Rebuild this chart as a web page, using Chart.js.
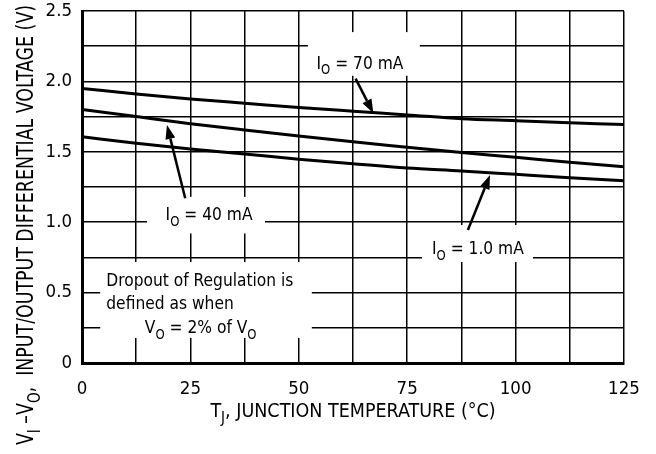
<!DOCTYPE html>
<html>
<head>
<meta charset="utf-8">
<script src="https://cdn.jsdelivr.net/npm/chart.js@4"></script>
<style>
  body { margin: 0; background: #fff; }
  #wrap { width: 656px; height: 454px; position: relative; }
</style>
</head>
<body>
<div id="wrap"><canvas id="dropoutChart"></canvas></div>
<script>
// temperatures (°C) and dropout voltage (V)
const tempC = [0, 12.5, 25, 37.5, 50, 62.5, 75, 87.5, 100, 112.5, 125];
const io70mA = [1.95, 1.91, 1.875, 1.845, 1.815, 1.788, 1.762, 1.735, 1.721, 1.707, 1.693];
const io40mA = [1.80, 1.75, 1.70, 1.655, 1.612, 1.571, 1.533, 1.495, 1.461, 1.425, 1.394];
const io1mA = [1.607, 1.56, 1.52, 1.485, 1.447, 1.415, 1.385, 1.364, 1.34, 1.316, 1.295];
const xTickLabels = ['0', '25', '50', '75', '100', '125'];
const yTickLabels = ['0', '0.5', '1.0', '1.5', '2.0', '2.5'];

const FONT = "'Liberation Sans Narrow', 'Arial Narrow', 'DejaVu Sans Condensed', sans-serif";

function toPoints(values) {
    return tempC.map((t, i) => ({ x: t, y: values[i] }));
}

// text with subscripts: parts = [[text, isSub], ...]; sx squeezes it horizontally
function drawRich(ctx, parts, x, y, align, size, sx) {
    sx = sx || 1;
    const subSize = Math.round(size * 0.78);
    let total = 0;
    parts.forEach(p => {
        ctx.font = (p[1] ? subSize : size) + 'px ' + FONT;
        total += ctx.measureText(p[0]).width;
    });
    ctx.save();
    ctx.translate(x, y);
    ctx.scale(sx, 1);
    let cx = align === 'center' ? -total / 2 : 0;
    ctx.textAlign = 'left';
    ctx.textBaseline = 'alphabetic';
    parts.forEach(p => {
        ctx.font = (p[1] ? subSize : size) + 'px ' + FONT;
        ctx.fillText(p[0], cx, p[1] ? size * 0.3 : 0);
        cx += ctx.measureText(p[0]).width;
    });
    ctx.restore();
}

function arrow(ctx, x1, y1, x2, y2) {
    const ang = Math.atan2(y2 - y1, x2 - x1);
    const len = 14, half = 5;
    const bx = x2 - len * Math.cos(ang), by = y2 - len * Math.sin(ang);
    ctx.beginPath();
    ctx.moveTo(x1, y1);
    ctx.lineTo(bx, by);
    ctx.lineWidth = 2.5;
    ctx.stroke();
    ctx.beginPath();
    ctx.moveTo(x2, y2);
    ctx.lineTo(bx + half * Math.sin(ang), by - half * Math.cos(ang));
    ctx.lineTo(bx - half * Math.sin(ang), by + half * Math.cos(ang));
    ctx.closePath();
    ctx.fill();
}

const notes = {
    id: 'notes',
    afterDatasetsDraw(chart) {
        const ctx = chart.ctx;
        const xs = chart.scales.x, ys = chart.scales.y;
        const px = v => xs.getPixelForValue(v);
        const py = v => ys.getPixelForValue(v);
        ctx.save();
        ctx.fillStyle = '#fff';
        [[52.1, 77.9, 2.35, 2.04], [15.0, 42.2, 1.18, 0.92],
         [78.4, 104, 0.98, 0.717], [4.2, 53, 0.717, 0.178]].forEach(b => {
            ctx.fillRect(px(b[0]), py(b[2]), px(b[1]) - px(b[0]), py(b[3]) - py(b[2]));
        });
        ctx.fillStyle = '#000';
        ctx.strokeStyle = '#000';
        drawRich(ctx, [['I', false], ['O', true], [' = 70 mA', false]], px(64.1), py(2.14) + 7, 'center', 18.5, 0.93);
        drawRich(ctx, [['I', false], ['O', true], [' = 40 mA', false]], px(29.3), py(1.065) + 7, 'center', 18.5, 0.93);
        drawRich(ctx, [['I', false], ['O', true], [' = 1.0 mA', false]], px(91.3), py(0.824) + 7, 'center', 18.5, 0.93);
        drawRich(ctx, [['Dropout of Regulation is', false]], px(5.6), py(0.55), 'left', 18.5, 0.93);
        drawRich(ctx, [['defined as when', false]], px(5.6), py(0.38), 'left', 18.5, 0.93);
        drawRich(ctx, [['V', false], ['O', true], [' = 2% of V', false], ['O', true]], px(14.5), py(0.21), 'left', 18.5, 0.93);
        arrow(ctx, px(63.1), py(2.02), px(67.2), py(1.773));
        arrow(ctx, px(23.8), py(1.17), px(19.6), py(1.69));
        arrow(ctx, px(89.0), py(0.945), px(94.1), py(1.335));

        // axis titles
        const ca = chart.chartArea;
        drawRich(ctx, [['T', false], ['J', true], [', JUNCTION TEMPERATURE (°C)', false]], (ca.left + ca.right) / 2, 417, 'center', 19.5);
        ctx.translate(33, 225);
        ctx.rotate(-Math.PI / 2);
        drawRich(ctx, [['V', false], ['I', true], [' –V', false], ['O', true], [',  INPUT/OUTPUT DIFFERENTIAL VOLTAGE (V)', false]], 0, 0, 'center', 23, 0.84);
        ctx.restore();
    }
};

const ctx = document.getElementById('dropoutChart').getContext('2d');
const lineStyle = { borderColor: '#000', borderWidth: 3, pointRadius: 0, fill: false, cubicInterpolationMode: 'monotone' };

new Chart(ctx, {
    type: 'line',
    data: {
        datasets: [
            Object.assign({ label: 'IO = 70 mA', data: toPoints(io70mA) }, lineStyle),
            Object.assign({ label: 'IO = 40 mA', data: toPoints(io40mA) }, lineStyle),
            Object.assign({ label: 'IO = 1.0 mA', data: toPoints(io1mA) }, lineStyle),
        ],
    },
    options: {
        responsive: true,
        maintainAspectRatio: false,
        animation: false,
        layout: { padding: { top: 11, right: 32, left: 0, bottom: 0 } },
        plugins: { legend: { display: false }, tooltip: { enabled: false } },
        scales: {
            x: {
                type: 'linear',
                min: 0,
                max: 125,
                afterFit: s => { s.height = 91; s.paddingLeft = 0; s.paddingRight = 0; },
                border: { color: '#000', width: 3 },
                grid: { color: '#000', lineWidth: 1.5, drawTicks: false },
                ticks: {
                    stepSize: 12.5,
                    autoSkip: false,
                    maxRotation: 0,
                    padding: 15,
                    color: '#000',
                    font: { family: FONT, size: 18.5 },
                    callback: v => (v % 25 === 0 ? xTickLabels[v / 25] : ''),
                },
            },
            y: {
                min: 0,
                max: 2.5,
                afterFit: s => { s.width = 82; s.paddingTop = 0; s.paddingBottom = 0; },
                border: { color: '#000', width: 3 },
                grid: { color: '#000', lineWidth: 1.5, drawTicks: false },
                ticks: {
                    stepSize: 0.25,
                    autoSkip: false,
                    padding: 10,
                    color: '#000',
                    font: { family: FONT, size: 18.5 },
                    callback: v => {
                        const k = Math.round(v * 4);
                        return k % 2 === 0 ? yTickLabels[k / 2] : '';
                    },
                },
            },
        },
    },
    plugins: [notes],
});
</script>
</body>
</html>
